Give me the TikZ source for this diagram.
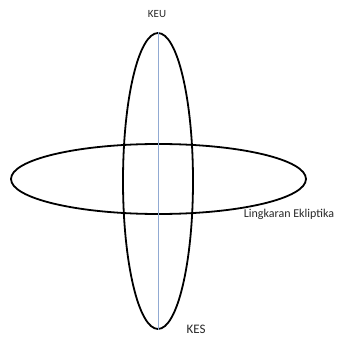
\documentclass[tikz,border=0pt]{standalone}
\usepackage{fontspec}
\setmainfont{Carlito}
\usetikzlibrary{shapes.geometric}
\definecolor{axisblue}{RGB}{145,170,210}
\definecolor{txt}{RGB}{40,40,40}
\begin{document}
\begin{tikzpicture}[x=1pt,y=-1pt,
  orbit/.style={ellipse,draw=black,line width=1.8pt,inner sep=0pt},
  lbl/.style={text=txt,inner sep=0pt}]
\useasboundingbox (0,0) rectangle (338,337);
\node[orbit,minimum width=70pt,minimum height=296pt] (v) at (158,181) {};
\node[orbit,minimum width=295pt,minimum height=70pt] (h) at (158.5,179) {};
\draw[axisblue,line width=0.9pt] (v.north) -- (v.south);
\node[lbl,font=\fontsize{11}{13}\selectfont] (keu) at (157,14) {KEU};
\node[lbl,font=\fontsize{13}{15}\selectfont] (kes) at (196,329) {KES};
\node[lbl,font=\fontsize{12}{14}\selectfont] (ekl) at (289,214) {Lingkaran Ekliptika};
\end{tikzpicture}
\end{document}
